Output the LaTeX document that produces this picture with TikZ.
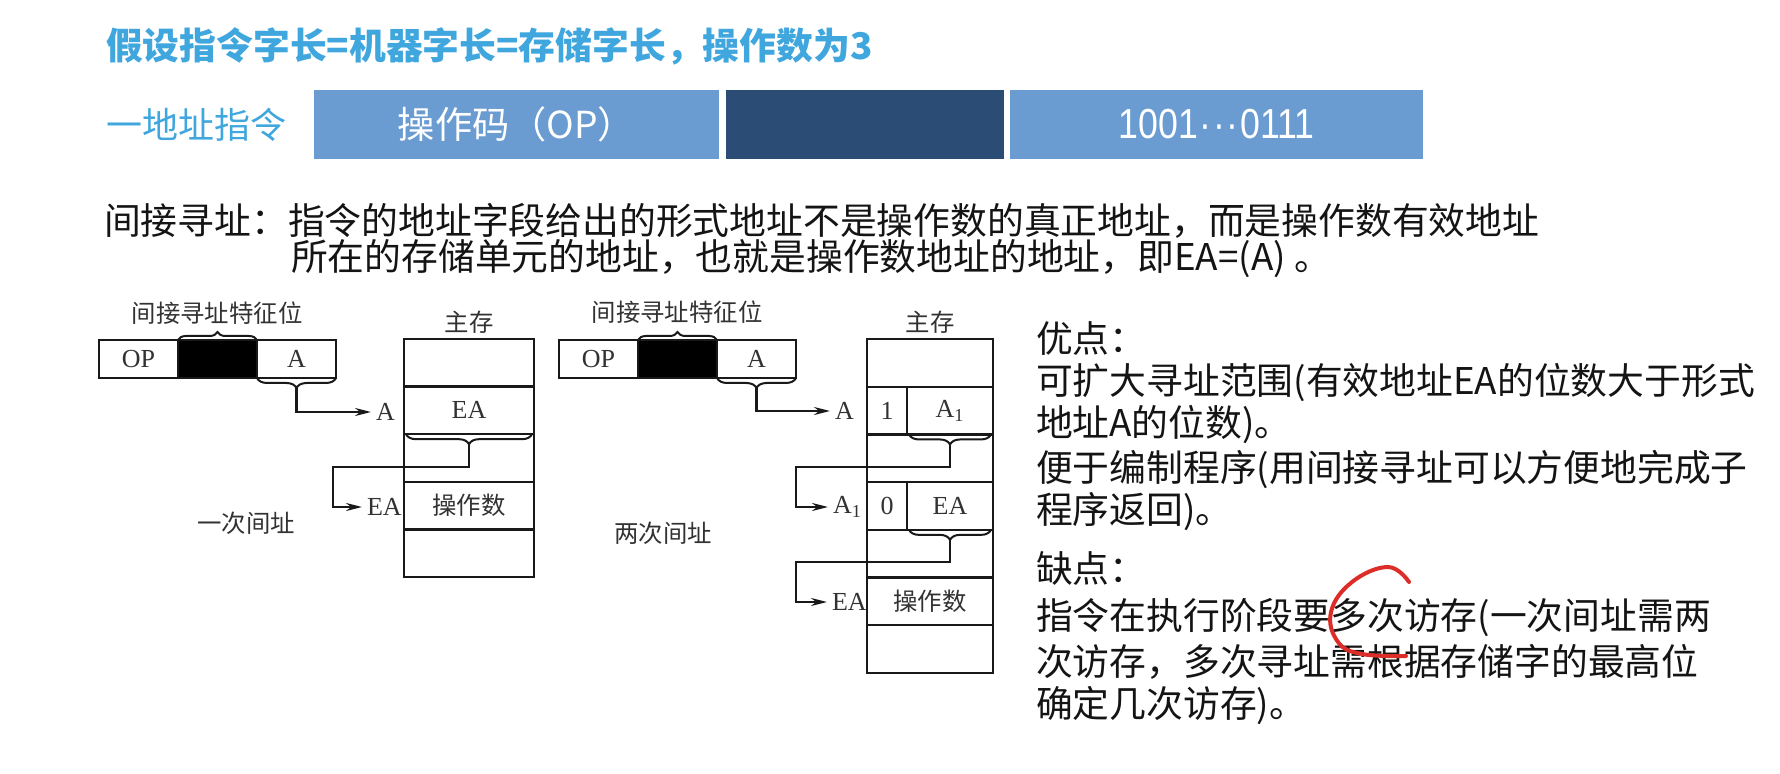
\documentclass[tikz,border=0pt]{standalone}
\usepackage{fontspec}
\usepackage{graphicx}
\setmainfont{Noto Sans CJK SC}
\newfontfamily\tnr{Liberation Serif}
\newfontfamily\lsans{Liberation Sans}
\usetikzlibrary{arrows.meta,decorations.pathreplacing}
\definecolor{ttlblue}{RGB}{64,166,222}
\definecolor{boxlight}{RGB}{106,155,209}
\definecolor{boxdark}{RGB}{43,76,116}
\definecolor{diag}{RGB}{25,25,25}
\definecolor{dtext}{RGB}{50,50,50}
\definecolor{pen}{RGB}{220,45,40}
\begin{document}
\begin{tikzpicture}[x=0.5pt,y=-0.5pt,
  every node/.style={inner sep=0pt, outer sep=0pt},
  ttl/.style={anchor=west, text=ttlblue, font=\bfseries\fontsize{18.4pt}{22pt}\selectfont},
  body/.style={anchor=west, text=black!92, font=\fontsize{18.4pt}{22pt}\selectfont},
  bar/.style={minimum height=34.5pt, text=white},
  cell/.style={draw=diag, line width=1.2pt, minimum height=19pt, minimum width=39.5pt, text=dtext, font=\tnr\fontsize{13pt}{14pt}\selectfont},
  mem/.style={draw=diag, line width=1.2pt, text=dtext, font=\tnr\fontsize{13pt}{14pt}\selectfont},
  cjkmem/.style={font=\fontsize{12.2pt}{14pt}\selectfont},
  dlab/.style={text=dtext, font=\fontsize{12.2pt}{14pt}\selectfont},
  llab/.style={anchor=west, text=dtext, font=\tnr\fontsize{13pt}{14pt}\selectfont},
  brcu/.style={decorate, decoration={brace, amplitude=4pt}, draw=diag, line width=1pt},
  brcd/.style={decorate, decoration={brace, mirror, amplitude=5pt}, draw=diag, line width=1pt},
  conn/.style={draw=diag, line width=1.1pt, shorten >=2.5pt, -{Stealth[length=8pt,width=4pt]}},
  redpen/.style={draw=pen, line width=2pt, line cap=round, line join=round},
]
\fill[white] (0,0) rectangle (1780,774);
\useasboundingbox (0,0) rectangle (1780,774);

% ---------- header ----------
\node[ttl] (title) at (106,46) {假设指令字长=机器字长=存储字长，操作数为3};
\node[ttl, font=\fontsize{18pt}{20pt}\selectfont] (one) at (106,125) {一地址指令};
\node[bar, fill=boxlight, minimum width=202.5pt, font=\fontsize{18.6pt}{20pt}\selectfont] (opf) at (516.5,124.5) {操作码（OP）};
\node[bar, fill=boxdark, minimum width=139pt] (mid) at (865,124.5) {};
\node[bar, fill=boxlight, minimum width=206.5pt, font=\lsans\fontsize{21pt}{22pt}\selectfont] (addr) at (1216.5,124.5) {\scalebox{0.85}[1]{1001\kern1pt·\kern1pt·\kern1pt·\kern1pt0111}};

% ---------- paragraph ----------
\node[body] (p1) at (104,221) {间接寻址：指令的地址字段给出的形式地址不是操作数的真正地址，而是操作数有效地址};
\node[body] (p2) at (291,259) {所在的存储单元的地址，也就是操作数地址的地址，即EA=(A) 。};

% ---------- left diagram ----------
\node[dlab] (feat1) at (217,313) {间接寻址特征位};
\node[cell] (op1) at (138.5,359) {OP};
\node[cell, fill=black] (ind1) at (217.5,359) {};
\node[cell] (a1) at (296.5,359) {A};
\draw[brcu] (ind1.north west) -- (ind1.north east);
\draw[brcd] (a1.south west) -- (a1.south east);
\coordinate (tipa1) at (296.5,387);
\node[llab] (la1) at (376,412) {A};
\draw[conn] (tipa1) |- (la1.west);

\node[dlab] (ms1) at (469,322) {主存};
\node[mem, minimum width=65pt, minimum height=23.8pt] (m1r1) at (469,362.8) {};
\node[mem, minimum width=65pt, minimum height=23.8pt] (m1r2) at (469,410.4) {EA};
\node[mem, minimum width=65pt, minimum height=23.8pt] (m1r3) at (469,458) {};
\node[mem, cjkmem, minimum width=65pt, minimum height=23.8pt] (m1r4) at (469,505.6) {操作数};
\node[mem, minimum width=65pt, minimum height=23.8pt] (m1r5) at (469,553.2) {};
\draw[brcd] ([xshift=1pt]m1r2.south west) -- ([xshift=-1pt]m1r2.south east);
\coordinate (tipm1) at (469,444.5);
\coordinate (bend1) at (333,467);
\node[llab] (lea1) at (367,507) {EA};
\draw[conn] (tipm1) |- (bend1) |- (lea1.west);
\node[dlab] (cap1) at (246,523) {一次间址};

% ---------- right diagram ----------
\node[dlab] (feat2) at (677,312) {间接寻址特征位};
\node[cell] (op2) at (598.5,359) {OP};
\node[cell, fill=black] (ind2) at (677.5,359) {};
\node[cell] (a2) at (756.5,359) {A};
\draw[brcu] (ind2.north west) -- (ind2.north east);
\draw[brcd] (a2.south west) -- (a2.south east);
\coordinate (tipa2) at (756.5,387);
\node[llab] (la2) at (835,411) {A};
\draw[conn] (tipa2) |- (la2.west);

\node[dlab] (ms2) at (930,322) {主存};
\node[mem, minimum width=63pt, minimum height=23.86pt] (m2r1) at (930,362.9) {};
\node[mem, minimum width=20pt, minimum height=23.86pt] (m2r2a) at (887,410.6) {1};
\node[mem, minimum width=43pt, minimum height=23.86pt] (m2r2b) at (950,410.6) {A\textsubscript{1}};
\node[mem, minimum width=63pt, minimum height=23.86pt] (m2r3) at (930,458.3) {};
\node[mem, minimum width=20pt, minimum height=23.86pt] (m2r4a) at (887,506) {0};
\node[mem, minimum width=43pt, minimum height=23.86pt] (m2r4b) at (950,506) {EA};
\node[mem, minimum width=63pt, minimum height=23.86pt] (m2r5) at (930,553.7) {};
\node[mem, cjkmem, minimum width=63pt, minimum height=23.86pt] (m2r6) at (930,601.4) {操作数};
\node[mem, minimum width=63pt, minimum height=23.86pt] (m2r7) at (930,649.1) {};

\draw[brcd] ([xshift=1pt]m2r2b.south west) -- ([xshift=-1pt]m2r2b.south east);
\coordinate (tipm2) at (950,444.5);
\coordinate (bend2) at (796,467);
\node[llab] (la12) at (833,507) {A\textsubscript{1}};
\draw[conn] (tipm2) |- (bend2) |- (la12.west);

\draw[brcd] ([xshift=1pt]m2r4b.south west) -- ([xshift=-1pt]m2r4b.south east);
\coordinate (tipm3) at (950,540);
\coordinate (bend3) at (796,562);
\node[llab] (lea2) at (832,602) {EA};
\draw[conn] (tipm3) |- (bend3) |- (lea2.west);
\node[dlab] (cap2) at (663,533) {两次间址};

% ---------- right text ----------
\node[body] (t1) at (1036,339) {优点：};
\node[body] (t2) at (1036,383) {可扩大寻址范围(有效地址EA的位数大于形式};
\node[body] (t3) at (1036,425) {地址A的位数)。};
\node[body] (t4) at (1036,469) {便于编制程序(用间接寻址可以方便地完成子};
\node[body] (t5) at (1036,512) {程序返回)。};
\node[body] (t6) at (1036,568) {缺点：};
\node[body] (t7) at (1036,618) {指令在执行阶段要多次访存(一次间址需两};
\node[body] (t8) at (1036,662) {次访存，多次寻址需根据存储字的最高位};
\node[body] (t9) at (1036,706) {确定几次访存)。};

% ---------- red pen mark ----------
\draw[redpen] plot[smooth, tension=0.7] coordinates {(1409,582) (1388,567) (1352,582) (1331,612) (1338,642) (1362,654) (1406,656)};
\end{tikzpicture}
\end{document}
